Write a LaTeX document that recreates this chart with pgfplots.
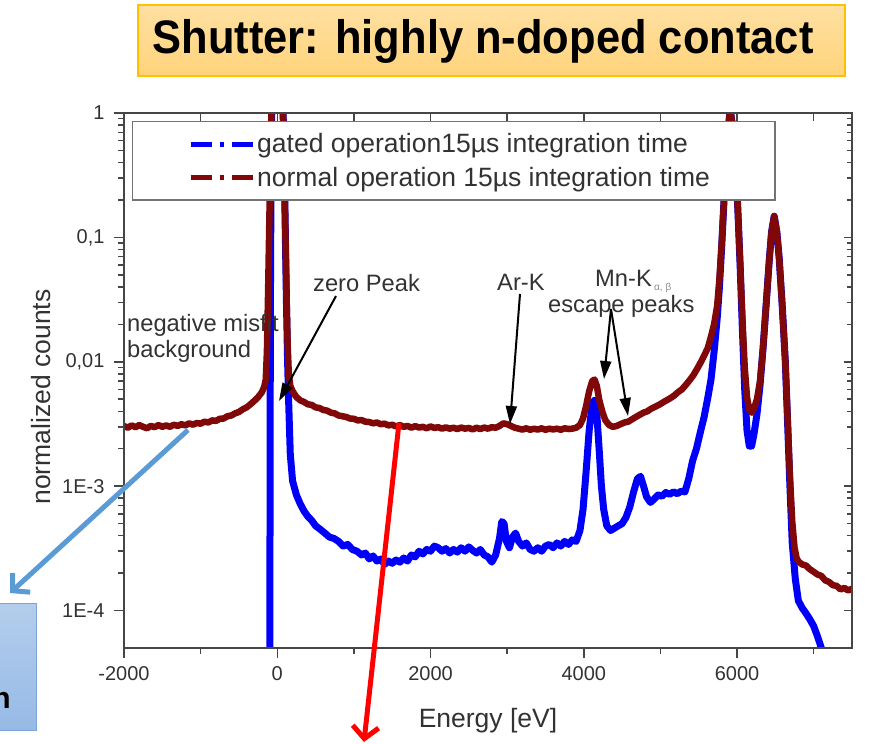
\documentclass[border=0pt]{standalone}
\usepackage{fontspec}
\setmainfont{Liberation Sans}
\usepackage{pgfplots}
\pgfplotsset{compat=1.18}
\usetikzlibrary{arrows.meta}
\definecolor{gblue}{RGB}{0,0,250}
\definecolor{nred}{RGB}{128,8,8}
\definecolor{axgray}{RGB}{70,70,70}
\definecolor{txtgray}{RGB}{50,50,50}
\definecolor{arrblue}{RGB}{91,155,213}
\definecolor{titletop}{RGB}{255,224,162}
\definecolor{titlebot}{RGB}{255,211,122}
\definecolor{titleborder}{RGB}{255,192,0}
\definecolor{boxtop}{RGB}{180,205,236}
\definecolor{boxbot}{RGB}{150,186,230}
\definecolor{boxborder}{RGB}{125,165,215}

\pgfplotstableread{
E v
-2000 1e-6
-100 1e-6
-96 1e-4
-93 3e-3
-88 0.05
-80 0.4
-68 1.5
-50 4
-30 8
0 10
20 9
40 6
60 2.6
75 1.1
90 0.4
105 0.11
120 0.03
135 0.01
150 4.5e-3
170 1.8e-3
200 1.1e-3
250 8.5e-4
300 7.2e-4
350 6.3e-4
400 5.7e-4
450 5.3e-4
500 4.8e-4
560 4.5e-4
620 4.2e-4
680 3.9e-4
740 3.8e-4
800 3.6e-4
860 3.3e-4
920 3.4e-4
980 3.1e-4
1040 3.0e-4
1100 2.8e-4
1150 2.9e-4
1200 2.6e-4
1250 2.75e-4
1300 2.5e-4
1350 2.6e-4
1400 2.35e-4
1450 2.5e-4
1500 2.4e-4
1550 2.55e-4
1600 2.45e-4
1650 2.65e-4
1700 2.5e-4
1750 2.8e-4
1800 2.7e-4
1850 3.0e-4
1900 2.85e-4
1950 3.1e-4
2000 3.0e-4
2050 3.3e-4
2100 3.2e-4
2150 3.0e-4
2200 3.15e-4
2250 2.9e-4
2300 3.1e-4
2350 2.95e-4
2400 3.2e-4
2450 3.0e-4
2500 3.25e-4
2550 3.05e-4
2600 2.9e-4
2650 3.1e-4
2700 2.8e-4
2750 2.7e-4
2800 2.45e-4
2850 2.8e-4
2900 3.8e-4
2930 5.2e-4
2960 5.0e-4
2990 3.6e-4
3030 3.2e-4
3070 3.9e-4
3110 4.2e-4
3150 3.6e-4
3200 3.3e-4
3250 3.5e-4
3300 3.1e-4
3350 3.0e-4
3400 3.2e-4
3450 3.0e-4
3500 3.3e-4
3550 3.4e-4
3600 3.2e-4
3650 3.5e-4
3700 3.3e-4
3750 3.6e-4
3800 3.4e-4
3850 3.7e-4
3900 3.6e-4
3950 4.4e-4
3990 6.5e-4
4030 1.3e-3
4070 2.8e-3
4110 4.6e-3
4140 4.9e-3
4170 3.8e-3
4200 2.0e-3
4230 1.0e-3
4260 6.5e-4
4300 4.8e-4
4350 4.4e-4
4400 4.6e-4
4450 4.8e-4
4500 5.0e-4
4550 5.6e-4
4600 6.8e-4
4650 9e-4
4700 1.15e-3
4740 1.2e-3
4780 1.0e-3
4820 8.2e-4
4870 7.4e-4
4920 7.9e-4
4970 8.5e-4
5020 8.3e-4
5070 8.9e-4
5120 8.6e-4
5170 9.0e-4
5220 8.7e-4
5270 9.1e-4
5320 9.0e-4
5370 1.15e-3
5420 1.6e-3
5470 2.0e-3
5520 2.7e-3
5570 3.6e-3
5620 5.2e-3
5660 7.2e-3
5700 0.012
5740 0.022
5770 0.04
5800 0.085
5830 0.2
5860 0.42
5890 0.8
5905 1.0
5920 0.97
5950 0.72
5980 0.4
6010 0.17
6040 0.06
6070 0.018
6100 6e-3
6130 2.8e-3
6160 2.1e-3
6190 2.1e-3
6220 2.6e-3
6260 3.8e-3
6300 6.5e-3
6340 0.013
6380 0.029
6420 0.065
6450 0.11
6485 0.148
6520 0.11
6550 0.068
6590 0.028
6630 0.01
6660 3.2e-3
6690 1.0e-3
6720 3.5e-4
6760 1.8e-4
6800 1.2e-4
6850 1.05e-4
6900 9.5e-5
6950 8.5e-5
7000 7.5e-5
7050 6.2e-5
7100 5.0e-5
7150 3.0e-5
7200 1e-5
}\gated

\pgfplotstableread{
E v
-2000 3.05e-3
-1950 2.95e-3
-1900 3.08e-3
-1850 2.98e-3
-1800 3.1e-3
-1750 3.0e-3
-1700 2.92e-3
-1650 3.05e-3
-1600 2.98e-3
-1550 3.1e-3
-1500 3.0e-3
-1450 3.08e-3
-1400 3.0e-3
-1350 3.12e-3
-1300 3.05e-3
-1250 3.15e-3
-1200 3.08e-3
-1150 3.2e-3
-1100 3.12e-3
-1050 3.22e-3
-1000 3.18e-3
-950 3.3e-3
-900 3.25e-3
-850 3.38e-3
-800 3.35e-3
-750 3.48e-3
-700 3.5e-3
-650 3.65e-3
-600 3.7e-3
-550 3.85e-3
-500 3.95e-3
-450 4.15e-3
-400 4.3e-3
-350 4.55e-3
-300 4.85e-3
-250 5.2e-3
-200 5.7e-3
-170 6.3e-3
-150 7.2e-3
-135 0.012
-120 0.035
-105 0.12
-90 0.4
-75 1.1
-60 2.6
-40 6
-20 9
0 10
20 9
40 6
60 2.6
75 1.1
90 0.4
105 0.12
120 0.035
135 0.014
150 8e-3
170 6.4e-3
200 5.8e-3
250 5.2e-3
300 4.9e-3
350 4.75e-3
400 4.55e-3
450 4.5e-3
500 4.3e-3
550 4.25e-3
600 4.1e-3
650 4.05e-3
700 3.9e-3
750 3.85e-3
800 3.7e-3
850 3.65e-3
900 3.6e-3
950 3.5e-3
1000 3.48e-3
1050 3.38e-3
1100 3.4e-3
1150 3.3e-3
1200 3.28e-3
1250 3.2e-3
1300 3.25e-3
1350 3.15e-3
1400 3.18e-3
1450 3.08e-3
1500 3.12e-3
1550 3.02e-3
1600 3.1e-3
1650 3.0e-3
1700 3.05e-3
1750 2.95e-3
1800 3.04e-3
1850 2.96e-3
1900 3.0e-3
1950 2.92e-3
2000 3.02e-3
2050 2.94e-3
2100 2.98e-3
2150 2.9e-3
2200 2.97e-3
2250 2.9e-3
2300 2.95e-3
2350 2.88e-3
2400 2.96e-3
2450 2.9e-3
2500 2.94e-3
2550 2.86e-3
2600 2.95e-3
2650 2.88e-3
2700 2.96e-3
2750 2.9e-3
2800 2.98e-3
2850 2.95e-3
2900 3.05e-3
2950 3.2e-3
3000 3.15e-3
3050 3.05e-3
3100 2.95e-3
3150 2.9e-3
3200 2.85e-3
3250 2.92e-3
3300 2.84e-3
3350 2.9e-3
3400 2.85e-3
3450 2.92e-3
3500 2.84e-3
3550 2.9e-3
3600 2.86e-3
3650 2.9e-3
3700 2.84e-3
3750 2.92e-3
3800 2.88e-3
3850 2.9e-3
3900 2.95e-3
3950 3.1e-3
3990 3.5e-3
4030 4.4e-3
4070 5.8e-3
4110 7.0e-3
4140 7.2e-3
4170 6.4e-3
4200 5.0e-3
4240 4.0e-3
4280 3.4e-3
4330 3.1e-3
4380 3.0e-3
4430 3.05e-3
4480 3.15e-3
4530 3.25e-3
4580 3.3e-3
4630 3.45e-3
4680 3.6e-3
4730 3.75e-3
4780 3.9e-3
4830 4.0e-3
4880 4.2e-3
4930 4.35e-3
4980 4.5e-3
5030 4.7e-3
5080 4.9e-3
5130 5.1e-3
5180 5.35e-3
5230 5.7e-3
5280 6.0e-3
5330 6.5e-3
5380 7.1e-3
5430 7.8e-3
5480 8.8e-3
5530 0.01
5580 0.0115
5620 0.013
5660 0.016
5700 0.02
5740 0.028
5770 0.046
5800 0.09
5830 0.2
5860 0.42
5890 0.8
5905 1.0
5920 0.97
5950 0.72
5980 0.4
6010 0.17
6040 0.062
6070 0.022
6100 9e-3
6130 5.2e-3
6160 4.1e-3
6190 3.9e-3
6220 4.2e-3
6260 5.0e-3
6300 7.0e-3
6340 0.013
6380 0.029
6420 0.065
6450 0.11
6485 0.148
6520 0.11
6550 0.068
6590 0.028
6630 0.01
6660 3.5e-3
6690 1.2e-3
6720 5.2e-4
6750 3.2e-4
6780 2.6e-4
6810 2.45e-4
6850 2.35e-4
6900 2.3e-4
6950 2.15e-4
7000 2.05e-4
7050 1.95e-4
7100 1.9e-4
7150 1.75e-4
7200 1.7e-4
7250 1.6e-4
7300 1.58e-4
7350 1.48e-4
7400 1.52e-4
7450 1.45e-4
7500 1.5e-4
}\normal

\newcommand{\annfont}{\fontsize{23.7bp}{27bp}\selectfont}

\begin{document}
\begin{tikzpicture}
\useasboundingbox (0,0) rectangle (870bp,-744bp);

\begin{scope}[x=1bp,y=-1bp]
  % title box
  \shade[top color=titletop, bottom color=titlebot] (138,5) rectangle (845,76);
  \draw[titleborder, line width=1.2bp] (138,5) rectangle (845,76);
  \node[font=\fontsize{47bp}{52bp}\selectfont\bfseries, xscale=0.925, inner sep=0] at (483,41) {Shutter: highly n-doped contact};
  % partial blue box bottom left
  \shade[top color=boxtop, bottom color=boxbot] (-5,603) rectangle (36,730);
  \draw[boxborder, line width=1bp] (-5,603) rectangle (36,730);
  \node[font=\fontsize{30bp}{34bp}\selectfont\bfseries, anchor=base east, inner sep=0] at (11,708) {n};
\end{scope}

\begin{axis}[
  at={(124bp,-648bp)}, anchor=south west,
  width=728bp, height=535bp, scale only axis,
  xmin=-2000, xmax=7500,
  ymode=log, ymin=5e-5, ymax=1,
  xtick={-2000,0,2000,4000,6000},
  xticklabels={-2000,0,2000,4000,6000},
  minor xtick={-1000,1000,3000,5000,7000},
  ytick={1e-4,1e-3,1e-2,1e-1,1},
  yticklabels={1E-4,1E-3,{0,01},{0,1},1},
  xtick pos=bottom, ytick pos=left,
  tick align=outside,
  major tick length=10bp, minor tick length=6bp,
  every tick/.style={axgray, line width=1.5bp},
  axis line style={axgray, line width=2bp},
  /pgf/number format/assume math mode=true,
  tick label style={font=\fontsize{20bp}{22bp}\selectfont, text=txtgray},
  xticklabel style={yshift=-5bp},
  yticklabel style={xshift=-6bp},
  xlabel={Energy [eV]},
  ylabel={normalized counts},
  label style={font=\fontsize{26.5bp}{30bp}\selectfont, text=txtgray},
  xlabel style={at={(axis description cs:0.5,0)}, anchor=north, yshift=-57bp},
  ylabel style={at={(axis description cs:0,0.469)}, anchor=south, yshift=70bp},
  legend style={at={(axis description cs:0,1)}, anchor=north west,
    xshift=8bp, yshift=-8bp, draw=black!55, line width=1.4bp, fill=white,
    inner xsep=10bp, inner ysep=10bp, row sep=9bp,
    font=\fontsize{26.5bp}{30bp}\selectfont, text=txtgray,
    /tikz/every even column/.append style={column sep=8bp}},
  legend cell align=left,
  legend image code/.code={
    \path[draw=none] (0bp,0bp) -- (110bp,0bp);
    \draw[#1, line width=5bp, dash pattern=on 21bp off 8bp on 4bp off 8bp] (48bp,0bp) -- (110bp,0bp);
  },
  clip=true,
]
\addplot[gblue, line width=7bp, line join=round] table[x=E, y=v] {\gated};
\addlegendentry{gated operation15µs integration time}
\addplot[nred, line width=6.5bp, line join=round] table[x=E, y=v] {\normal};
\addlegendentry{normal operation 15µs integration time\hspace*{53bp}}
\end{axis}

\begin{axis}[
  at={(124bp,-648bp)}, anchor=south west,
  width=728bp, height=535bp, scale only axis,
  xmin=-2000, xmax=7500,
  ymode=log, ymin=5e-5, ymax=1,
  xtick={-2000,-1000,...,7000},
  ytick={1e-4,1e-3,1e-2,1e-1,1},
  xticklabels={}, yticklabels={},
  xtick pos=top, ytick pos=right,
  tick align=inside,
  major tick length=8bp, minor tick length=5bp,
  every tick/.style={axgray, line width=1.5bp},
  axis line style={axgray, line width=2bp},
]
\end{axis}

\begin{scope}[x=1bp,y=-1bp]
  % annotations
  \node[font=\annfont, text=txtgray, anchor=west, inner sep=0] at (313,283) {zero Peak};
  \node[font=\annfont, text=txtgray, anchor=west, inner sep=0] at (127,325) {negative misfit};
  \node[font=\annfont, text=txtgray, anchor=west, inner sep=0] at (127,351) {background};
  \node[font=\annfont, text=txtgray, anchor=west, inner sep=0] at (497,282) {Ar-K};
  \node[font=\annfont, text=txtgray, anchor=west, inner sep=0] at (595,278) {Mn-K};
  \node[font=\fontsize{10bp}{11bp}\selectfont, text=black!45, anchor=west, inner sep=0] at (654,288) {α, β};
  \node[font=\annfont, text=txtgray, anchor=west, inner sep=0] at (548,306) {escape peaks};
  \draw[black, line width=2bp, -{Triangle[length=18bp,width=11bp]}] (336,296) -- (279,401);
  \draw[black, line width=2bp, -{Triangle[length=18bp,width=11bp]}] (520,294) -- (510,424);
  \draw[black, line width=2bp, -{Triangle[length=18bp,width=11bp]}] (611,309) -- (604,379);
  \draw[black, line width=2bp, -{Triangle[length=18bp,width=11bp]}] (611,309) -- (628,416);
  % blue and red callout arrows
  \draw[arrblue, line width=5bp, -{Straight Barb[length=12bp,width=26bp]}] (188,430) -- (10,593);
  \draw[red, line width=5bp, -{Straight Barb[length=12bp,width=26bp]}] (399,423) -- (364,742);
\end{scope}
\end{tikzpicture}
\end{document}
